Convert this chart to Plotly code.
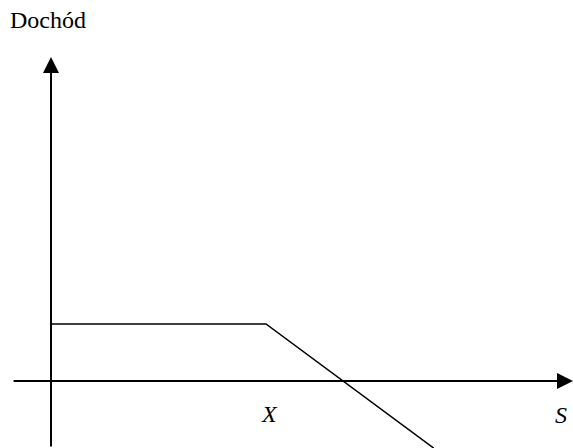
import plotly.graph_objects as go

# Data (units: strike X = 100)
s_values = [0, 100, 178]
payoff_values = [26.5, 26.5, -31.2]
strike = 100
axis_label_y = "Dochód"
x_label = "S"
strike_label = "X"

x_range = [-23.72, 242.8]
y_range = [-31.16, 177.2]

fig = go.Figure()
fig.add_trace(go.Scatter(x=s_values, y=payoff_values, mode="lines",
                         line=dict(color="black", width=1.5), hoverinfo="skip",
                         showlegend=False))

# axes with arrows
fig.add_annotation(x=x_range[1], y=0, ax=-18.1, ay=0, xref="x", yref="y", axref="x", ayref="y",
                   showarrow=True, arrowhead=2, arrowsize=1.6, arrowwidth=2, arrowcolor="black", text="")
fig.add_annotation(x=0, y=150.7, ax=0, ay=y_range[0], xref="x", yref="y", axref="x", ayref="y",
                   showarrow=True, arrowhead=2, arrowsize=1.6, arrowwidth=2, arrowcolor="black", text="")

serif = "Liberation Serif, Times New Roman, serif"
fig.add_annotation(x=8/573, y=1-20/448, xref="paper", yref="paper", text=axis_label_y,
                   showarrow=False, xanchor="left", yanchor="middle",
                   font=dict(family=serif, size=24, color="black"))
fig.add_annotation(x=strike + 1.5, y=-15.3, xref="x", yref="y", text="<i>" + strike_label + "</i>",
                   showarrow=False, font=dict(family=serif, size=24, color="black"))
fig.add_annotation(x=237, y=-16.0, xref="x", yref="y", text="<i>" + x_label + "</i>",
                   showarrow=False, font=dict(family=serif, size=24, color="black"))

fig.update_xaxes(range=x_range, visible=False, fixedrange=True)
fig.update_yaxes(range=y_range, visible=False, fixedrange=True)
fig.update_layout(width=573, height=448, margin=dict(l=0, r=0, t=0, b=0),
                  plot_bgcolor="white", paper_bgcolor="white")
fig.write_html("out.html", config={"displayModeBar": False},
               post_script="document.body.style.margin='0';document.body.style.padding='0';document.body.style.overflow='hidden';")
